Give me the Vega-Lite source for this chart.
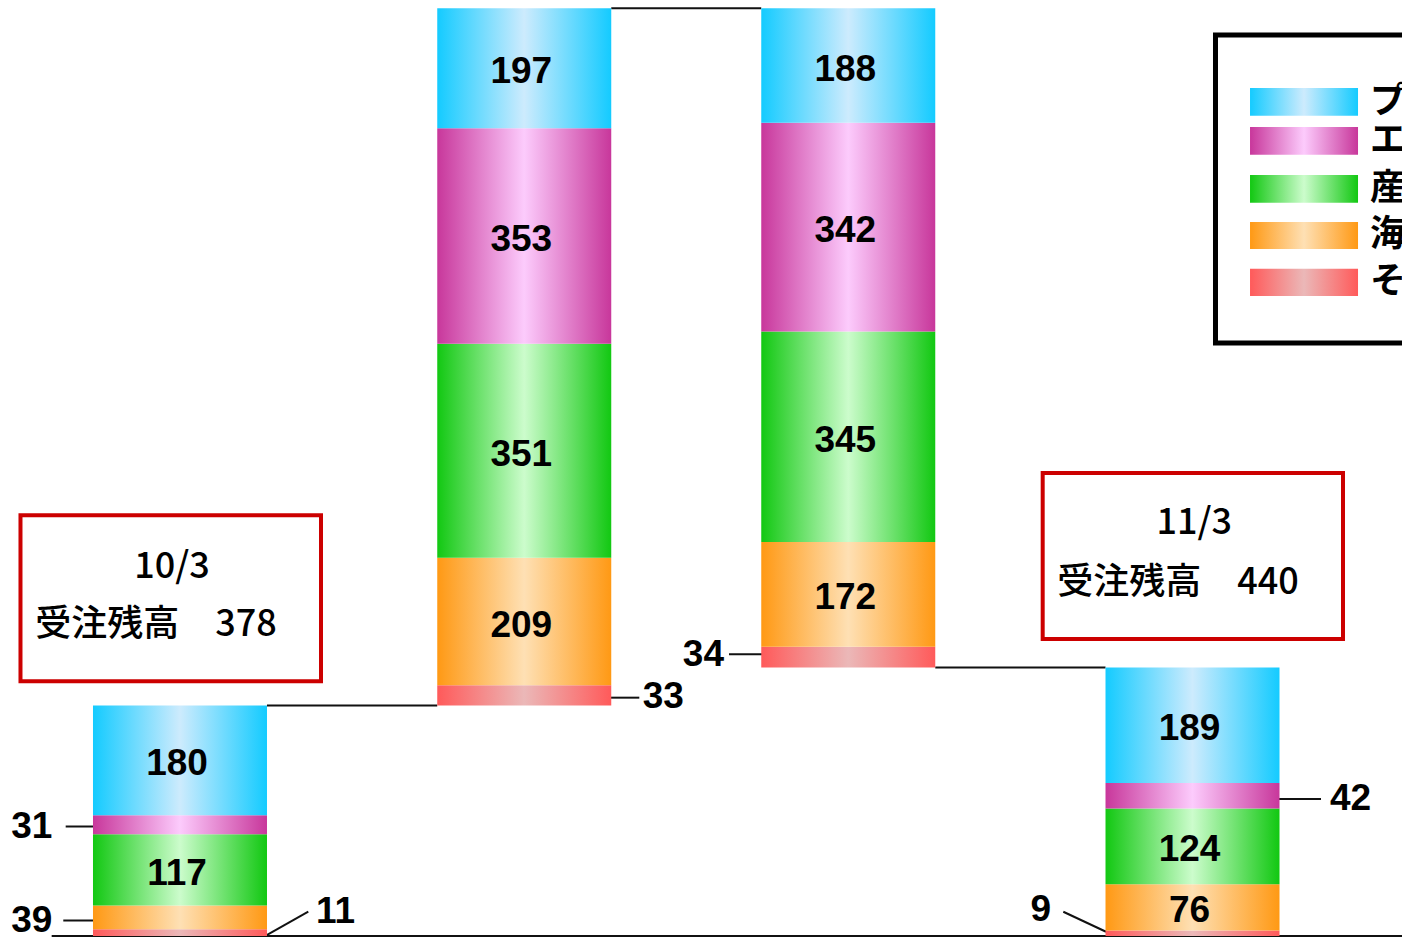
{
  "$schema": "https://vega.github.io/schema/vega-lite/v6.json",
  "width": 1402,
  "height": 937,
  "padding": 0,
  "autosize": {"type": "none"},
  "background": "white",
  "config": {"view": {"stroke": null}},
  "datasets": {
    "orders": [
      {"stage": "10/3受注残高", "slot": 1, "base": 0, "seg": "その他", "order": 1, "value": 11},
      {"stage": "10/3受注残高", "slot": 1, "base": 0, "seg": "海外", "order": 2, "value": 39},
      {"stage": "10/3受注残高", "slot": 1, "base": 0, "seg": "産業機械", "order": 3, "value": 117},
      {"stage": "10/3受注残高", "slot": 1, "base": 0, "seg": "エネルギー", "order": 4, "value": 31},
      {"stage": "10/3受注残高", "slot": 1, "base": 0, "seg": "プラント", "order": 5, "value": 180},
      {"stage": "受注高", "slot": 2.02, "base": 378, "seg": "その他", "order": 1, "value": 33},
      {"stage": "受注高", "slot": 2.02, "base": 378, "seg": "海外", "order": 2, "value": 209},
      {"stage": "受注高", "slot": 2.02, "base": 378, "seg": "産業機械", "order": 3, "value": 351},
      {"stage": "受注高", "slot": 2.02, "base": 378, "seg": "エネルギー", "order": 4, "value": 353},
      {"stage": "受注高", "slot": 2.02, "base": 378, "seg": "プラント", "order": 5, "value": 197},
      {"stage": "売上高", "slot": 2.98, "base": 440, "seg": "その他", "order": 1, "value": 34},
      {"stage": "売上高", "slot": 2.98, "base": 440, "seg": "海外", "order": 2, "value": 172},
      {"stage": "売上高", "slot": 2.98, "base": 440, "seg": "産業機械", "order": 3, "value": 345},
      {"stage": "売上高", "slot": 2.98, "base": 440, "seg": "エネルギー", "order": 4, "value": 342},
      {"stage": "売上高", "slot": 2.98, "base": 440, "seg": "プラント", "order": 5, "value": 188},
      {"stage": "11/3受注残高", "slot": 4, "base": 0, "seg": "その他", "order": 1, "value": 9},
      {"stage": "11/3受注残高", "slot": 4, "base": 0, "seg": "海外", "order": 2, "value": 76},
      {"stage": "11/3受注残高", "slot": 4, "base": 0, "seg": "産業機械", "order": 3, "value": 124},
      {"stage": "11/3受注残高", "slot": 4, "base": 0, "seg": "エネルギー", "order": 4, "value": 42},
      {"stage": "11/3受注残高", "slot": 4, "base": 0, "seg": "プラント", "order": 5, "value": 189}
    ],
    "lines": [
      {"name": "baseline", "x": 0.6198, "x2": 4.6207, "y": 0, "y2": 0},
      {"name": "step1", "x": 1.2578, "x2": 1.7622, "y": 378, "y2": 378},
      {"name": "step2", "x": 2.2778, "x2": 2.7222, "y": 1521, "y2": 1521},
      {"name": "step3", "x": 3.2378, "x2": 3.7422, "y": 440, "y2": 440},
      {"name": "lead31", "x": 0.6613, "x2": 0.7422, "y": 179.5, "y2": 179.5},
      {"name": "lead39", "x": 0.6542, "x2": 0.7422, "y": 25.4, "y2": 25.4},
      {"name": "lead11", "x": 1.2569, "x2": 1.3801, "y": 1.6, "y2": 39.8},
      {"name": "lead33", "x": 2.2741, "x2": 2.3609, "y": 390.7, "y2": 390.7},
      {"name": "lead34", "x": 2.6267, "x2": 2.7244, "y": 461.8, "y2": 461.8},
      {"name": "lead42", "x": 4.2474, "x2": 4.3807, "y": 224.6, "y2": 224.6},
      {"name": "lead9", "x": 3.6172, "x2": 3.7437, "y": 39.8, "y2": 7.0}
    ],
    "callouts": [
      {"label": "31", "x": 0.622, "y": 179.5, "side": "left"},
      {"label": "39", "x": 0.622, "y": 25.4, "side": "left"},
      {"label": "11", "x": 1.403, "y": 39.8, "side": "right"},
      {"label": "33", "x": 2.3709, "y": 391.8, "side": "right"},
      {"label": "34", "x": 2.6119, "y": 460.7, "side": "left"},
      {"label": "42", "x": 4.4074, "y": 224.1, "side": "right"},
      {"label": "9", "x": 3.5807, "y": 42.6, "side": "left"}
    ],
    "boxes": [
      {"x": 0.5274, "x2": 1.4178, "y": 689.7, "y2": 417.5},
      {"x": 3.5561, "x2": 4.4459, "y": 759.0, "y2": 486.9}
    ],
    "notes": [
      {"text": "10/3", "x": 0.9763, "y": 605.7},
      {"text": "受注残高　378", "x": 0.9289, "y": 509.8},
      {"text": "11/3", "x": 4.0053, "y": 676.6},
      {"text": "受注残高　440", "x": 3.957, "y": 578.2}
    ],
    "legend": [
      {"seg": "プラント", "yTop": 1390.2, "yBottom": 1344.8, "yText": 1367.2},
      {"seg": "エネルギー", "yTop": 1326.2, "yBottom": 1280.8, "yText": 1303.3},
      {"seg": "産業機械", "yTop": 1247.5, "yBottom": 1202.1, "yText": 1224.6},
      {"seg": "海外", "yTop": 1170.5, "yBottom": 1126.2, "yText": 1148.4},
      {"seg": "その他", "yTop": 1093.9, "yBottom": 1049.2, "yText": 1072.1}
    ]
  },
  "layer": [
    {
      "data": {"name": "lines"},
      "mark": {"type": "rule", "color": "#111111", "strokeWidth": 2},
      "encoding": {
        "x": {"field": "x", "type": "quantitative", "scale": {"domain": [0.4667, 4.6207], "nice": false, "zero": false, "padding": 0}, "axis": null},
        "x2": {"field": "x2"},
        "y": {"field": "y", "type": "quantitative", "scale": {"domain": [-1.64, 1534.4], "nice": false, "zero": false, "padding": 0}, "axis": null},
        "y2": {"field": "y2"}
      }
    },
    {
      "data": {"name": "orders"},
      "transform": [
        {"stack": "value", "groupby": ["stage"], "sort": [{"field": "order", "order": "ascending"}], "as": ["s0", "s1"]},
        {"calculate": "datum.base + datum.s0", "as": "y0"},
        {"calculate": "datum.base + datum.s1", "as": "y1"}
      ],
      "mark": {"type": "bar", "width": 174},
      "encoding": {
        "x": {"field": "slot", "type": "quantitative", "scale": {"domain": [0.4667, 4.6207], "nice": false, "zero": false, "padding": 0}, "axis": null},
        "y": {"field": "y0", "type": "quantitative", "scale": {"domain": [-1.64, 1534.4], "nice": false, "zero": false, "padding": 0}, "axis": null},
        "y2": {"field": "y1"},
        "fill": {
          "condition": [
            {"test": "datum.seg === 'プラント'", "value": {"gradient": "linear", "x1": 0, "y1": 0, "x2": 1, "y2": 0, "stops": [{"offset": 0, "color": "#14CBFF"}, {"offset": 0.5, "color": "#CDEBFD"}, {"offset": 1, "color": "#14CBFF"}]}},
            {"test": "datum.seg === 'エネルギー'", "value": {"gradient": "linear", "x1": 0, "y1": 0, "x2": 1, "y2": 0, "stops": [{"offset": 0, "color": "#C8379B"}, {"offset": 0.5, "color": "#FCCBFC"}, {"offset": 1, "color": "#C8379B"}]}},
            {"test": "datum.seg === '産業機械'", "value": {"gradient": "linear", "x1": 0, "y1": 0, "x2": 1, "y2": 0, "stops": [{"offset": 0, "color": "#12C812"}, {"offset": 0.5, "color": "#CCFCCC"}, {"offset": 1, "color": "#12C812"}]}},
            {"test": "datum.seg === '海外'", "value": {"gradient": "linear", "x1": 0, "y1": 0, "x2": 1, "y2": 0, "stops": [{"offset": 0, "color": "#FF9914"}, {"offset": 0.5, "color": "#FEE0B4"}, {"offset": 1, "color": "#FF9914"}]}}
          ],
          "value": {"gradient": "linear", "x1": 0, "y1": 0, "x2": 1, "y2": 0, "stops": [{"offset": 0, "color": "#FF5A5A"}, {"offset": 0.5, "color": "#EBB8B8"}, {"offset": 1, "color": "#FF5A5A"}]}
        }
      }
    },
    {
      "data": {"name": "orders"},
      "transform": [
        {"stack": "value", "groupby": ["stage"], "sort": [{"field": "order", "order": "ascending"}], "as": ["s0", "s1"]},
        {"calculate": "datum.base + (datum.s0 + datum.s1) / 2", "as": "mid"},
        {"filter": "datum.value >= 60"}
      ],
      "mark": {"type": "text", "font": "Liberation Sans", "fontWeight": "bold", "fontSize": 37, "align": "center", "baseline": "middle", "dx": -3, "dy": 4, "color": "#000000"},
      "encoding": {
        "x": {"field": "slot", "type": "quantitative", "scale": {"domain": [0.4667, 4.6207], "nice": false, "zero": false, "padding": 0}, "axis": null},
        "y": {"field": "mid", "type": "quantitative", "scale": {"domain": [-1.64, 1534.4], "nice": false, "zero": false, "padding": 0}, "axis": null},
        "text": {"field": "value", "type": "quantitative"}
      }
    },
    {
      "data": {"name": "callouts"},
      "transform": [{"filter": "datum.side === 'left'"}],
      "mark": {"type": "text", "font": "Liberation Sans", "fontWeight": "bold", "fontSize": 37, "align": "right", "baseline": "middle", "color": "#000000"},
      "encoding": {
        "x": {"field": "x", "type": "quantitative", "scale": {"domain": [0.4667, 4.6207], "nice": false, "zero": false, "padding": 0}, "axis": null},
        "y": {"field": "y", "type": "quantitative", "scale": {"domain": [-1.64, 1534.4], "nice": false, "zero": false, "padding": 0}, "axis": null},
        "text": {"field": "label", "type": "nominal"}
      }
    },
    {
      "data": {"name": "callouts"},
      "transform": [{"filter": "datum.side === 'right'"}],
      "mark": {"type": "text", "font": "Liberation Sans", "fontWeight": "bold", "fontSize": 37, "align": "left", "baseline": "middle", "color": "#000000"},
      "encoding": {
        "x": {"field": "x", "type": "quantitative", "scale": {"domain": [0.4667, 4.6207], "nice": false, "zero": false, "padding": 0}, "axis": null},
        "y": {"field": "y", "type": "quantitative", "scale": {"domain": [-1.64, 1534.4], "nice": false, "zero": false, "padding": 0}, "axis": null},
        "text": {"field": "label", "type": "nominal"}
      }
    },
    {
      "data": {"name": "boxes"},
      "mark": {"type": "rect", "fill": null, "stroke": "#CC0000", "strokeWidth": 4},
      "encoding": {
        "x": {"field": "x", "type": "quantitative", "scale": {"domain": [0.4667, 4.6207], "nice": false, "zero": false, "padding": 0}, "axis": null},
        "x2": {"field": "x2"},
        "y": {"field": "y", "type": "quantitative", "scale": {"domain": [-1.64, 1534.4], "nice": false, "zero": false, "padding": 0}, "axis": null},
        "y2": {"field": "y2"}
      }
    },
    {
      "data": {"name": "notes"},
      "mark": {"type": "text", "font": "Noto Sans CJK JP", "fontWeight": 500, "fontSize": 36, "align": "center", "baseline": "middle", "color": "#000000"},
      "encoding": {
        "x": {"field": "x", "type": "quantitative", "scale": {"domain": [0.4667, 4.6207], "nice": false, "zero": false, "padding": 0}, "axis": null},
        "y": {"field": "y", "type": "quantitative", "scale": {"domain": [-1.64, 1534.4], "nice": false, "zero": false, "padding": 0}, "axis": null},
        "text": {"field": "text", "type": "nominal"}
      }
    },
    {
      "data": {"values": [{"frame": "legend"}]},
      "mark": {"type": "rect", "fill": null, "stroke": "#000000", "strokeWidth": 5, "clip": true},
      "encoding": {
        "x": {"datum": 4.0681, "type": "quantitative", "scale": {"domain": [0.4667, 4.6207], "nice": false, "zero": false, "padding": 0}, "axis": null},
        "x2": {"datum": 5.2},
        "y": {"datum": 1477, "type": "quantitative", "scale": {"domain": [-1.64, 1534.4], "nice": false, "zero": false, "padding": 0}, "axis": null},
        "y2": {"datum": 972.1}
      }
    },
    {
      "data": {"name": "legend"},
      "mark": {"type": "rect"},
      "encoding": {
        "x": {"datum": 4.1704, "type": "quantitative", "scale": {"domain": [0.4667, 4.6207], "nice": false, "zero": false, "padding": 0}, "axis": null},
        "x2": {"datum": 4.4904},
        "y": {"field": "yTop", "type": "quantitative", "scale": {"domain": [-1.64, 1534.4], "nice": false, "zero": false, "padding": 0}, "axis": null},
        "y2": {"field": "yBottom"},
        "fill": {
          "condition": [
            {"test": "datum.seg === 'プラント'", "value": {"gradient": "linear", "x1": 0, "y1": 0, "x2": 1, "y2": 0, "stops": [{"offset": 0, "color": "#14CBFF"}, {"offset": 0.5, "color": "#CDEBFD"}, {"offset": 1, "color": "#14CBFF"}]}},
            {"test": "datum.seg === 'エネルギー'", "value": {"gradient": "linear", "x1": 0, "y1": 0, "x2": 1, "y2": 0, "stops": [{"offset": 0, "color": "#C8379B"}, {"offset": 0.5, "color": "#FCCBFC"}, {"offset": 1, "color": "#C8379B"}]}},
            {"test": "datum.seg === '産業機械'", "value": {"gradient": "linear", "x1": 0, "y1": 0, "x2": 1, "y2": 0, "stops": [{"offset": 0, "color": "#12C812"}, {"offset": 0.5, "color": "#CCFCCC"}, {"offset": 1, "color": "#12C812"}]}},
            {"test": "datum.seg === '海外'", "value": {"gradient": "linear", "x1": 0, "y1": 0, "x2": 1, "y2": 0, "stops": [{"offset": 0, "color": "#FF9914"}, {"offset": 0.5, "color": "#FEE0B4"}, {"offset": 1, "color": "#FF9914"}]}}
          ],
          "value": {"gradient": "linear", "x1": 0, "y1": 0, "x2": 1, "y2": 0, "stops": [{"offset": 0, "color": "#FF5A5A"}, {"offset": 0.5, "color": "#EBB8B8"}, {"offset": 1, "color": "#FF5A5A"}]}
        }
      }
    },
    {
      "data": {"name": "legend"},
      "mark": {"type": "text", "font": "Noto Sans CJK JP", "fontWeight": "bold", "fontSize": 36, "align": "left", "baseline": "middle", "color": "#000000", "clip": true},
      "encoding": {
        "x": {"datum": 4.526, "type": "quantitative", "scale": {"domain": [0.4667, 4.6207], "nice": false, "zero": false, "padding": 0}, "axis": null},
        "y": {"field": "yText", "type": "quantitative", "scale": {"domain": [-1.64, 1534.4], "nice": false, "zero": false, "padding": 0}, "axis": null},
        "text": {"field": "seg", "type": "nominal"}
      }
    }
  ]
}
